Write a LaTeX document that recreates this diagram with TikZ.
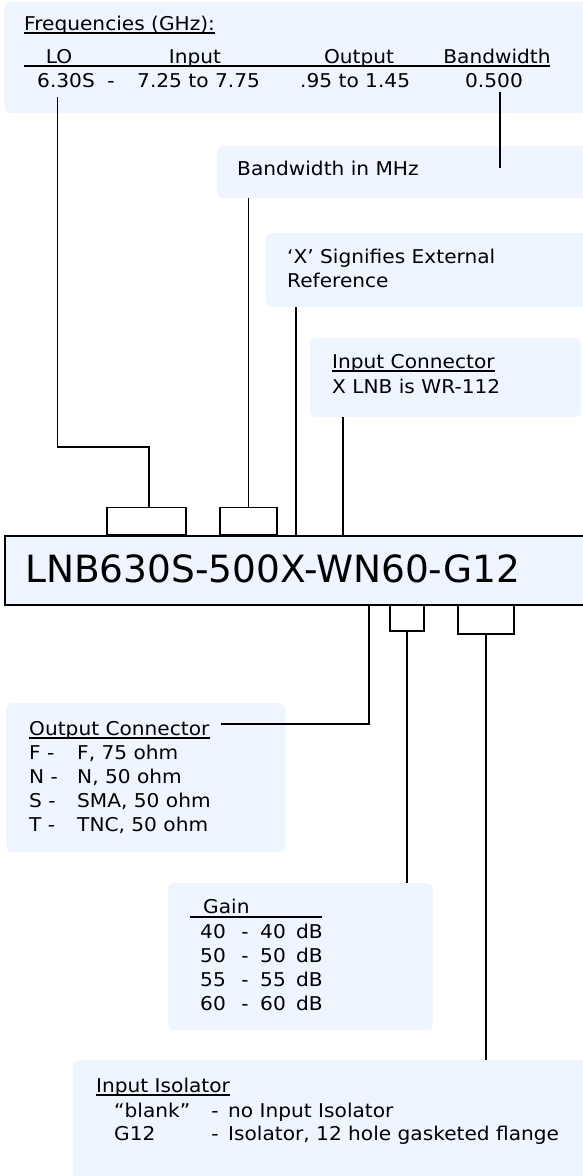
\documentclass[tikz,border=0pt]{standalone}
\usepackage{fontspec}
\setmainfont{DejaVu Sans}[FakeStretch=1.06]
\newfontfamily\partfont{DejaVu Sans}
\usepackage{xcolor}
\usetikzlibrary{positioning}
\definecolor{paleblue}{HTML}{EEF5FE}

\begin{document}
\begin{tikzpicture}[
    x=1pt, y=-1pt,
    font=\fontsize{19}{24}\selectfont,
    panel/.style={
        fill=paleblue,
        rounded corners=6pt,
        anchor=north west,
        inner sep=0pt
    },
    txt/.style={anchor=base west, inner sep=0pt},
    ctxt/.style={anchor=base, inner sep=0pt},
    bracket/.style={draw, line width=1.5pt, inner sep=0pt},
    wire/.style={line width=1.5pt},
    uline/.style={line width=1.3pt}
]
\useasboundingbox (0,0) rectangle (582,1176);

% Note panels
\node[panel, minimum width=620pt, minimum height=111pt] (freqnote) at (4,2) {};
\node[panel, minimum width=400pt, minimum height=52pt] (bwnote) at (217,146) {};
\node[panel, minimum width=330pt, minimum height=74pt] (xnote) at (266,233) {};
\node[panel, minimum width=271pt, minimum height=79pt] (innote) at (310,338) {};
\node[panel, minimum width=279pt, minimum height=149pt] (outnote) at (6,703) {};
\node[panel, minimum width=265pt, minimum height=147pt] (gainnote) at (168,883) {};
\node[panel, minimum width=540pt, minimum height=140pt] (isonote) at (73,1060) {};

% Part number
\node[draw, fill=paleblue, line width=1.6pt, anchor=north west,
      minimum width=620pt, minimum height=69pt, inner sep=0pt] (lnb) at (4,535) {};
\node[txt, font=\partfont\fontsize{37.5}{44}\selectfont] (partno) at (25,582) {LNB630S-500X-WN60-G12};

\node[bracket, minimum width=79pt, minimum height=27pt, anchor=south west] (lobox) at (106,535) {};
\node[bracket, minimum width=57pt, minimum height=27pt, anchor=south west] (bwbox) at (219,535) {};
\node[bracket, minimum width=34pt, minimum height=26pt, anchor=north west] (gainbox) at (389,604) {};
\node[bracket, minimum width=56pt, minimum height=29pt, anchor=north west] (isobox) at (457,604) {};

% Frequencies
\node[txt] (freqtitle) at (24,30) {Frequencies (GHz):};
\draw[uline] ([yshift=-3pt]freqtitle.base west) -- ([yshift=-3pt]freqtitle.base east);
\node[ctxt] (lohead) at (59,63) {LO};
\node[ctxt] (inhead) at (195,63) {Input};
\node[ctxt] (outhead) at (359,63) {Output};
\node[ctxt] (bwhead) at (497,63) {Bandwidth};
\draw[uline] (24,66) -- (550,66);
\node[txt] (loval) at (37,87) {6.30S};
\node[ctxt] (dashval) at (111,87) {-};
\node[txt] (inval) at (137,87) {7.25 to 7.75};
\node[txt] (outval) at (300,87) {.95 to 1.45};
\node[ctxt] (bwval) at (494,87) {0.500};

% Notes
\node[txt] (bwtext) at (237,175) {Bandwidth in MHz};
\node[txt] (xtext) at (287,263) {`X' Signifies External};
\node[txt] (xtext2) at (287,287) {Reference};
\node[txt] (intitle) at (332,368) {Input Connector};
\draw[uline] ([yshift=-3pt]intitle.base west) -- ([yshift=-3pt]intitle.base east);
\node[txt] (intext) at (332,393) {X LNB is WR-112};

\node[txt] (outtitle) at (29,735) {Output Connector};
\draw[uline] ([yshift=-3pt]outtitle.base west) -- ([yshift=-3pt]outtitle.base east);
\foreach \code/\desc [count=\i] in {F/{F, 75 ohm}, N/{N, 50 ohm}, S/{SMA, 50 ohm}, T/{TNC, 50 ohm}} {
    \node[txt] (outcode\i) at (29,735+24*\i) {\code\ -};
    \node[txt] (outdesc\i) at (77,735+24*\i) {\desc};
}

\node[txt] (gaintitle) at (203,913) {Gain};
\draw[uline] (190,917) -- (322,917);
\foreach \g [count=\i] in {40,50,55,60} {
    \node[txt] (gaincode\i) at (200,914+24*\i) {\g};
    \node[ctxt] (gaindash\i) at (245,914+24*\i) {-};
    \node[txt] (gainval\i) at (260,914+24*\i) {\g};
    \node[txt] (gaindb\i) at (296,914+24*\i) {dB};
}

\node[txt] (isotitle) at (96,1092) {Input Isolator};
\draw[uline] ([yshift=-3pt]isotitle.base west) -- ([yshift=-3pt]isotitle.base east);
\node[txt] (isocode1) at (114,1117) {``blank''};
\node[ctxt] (isodash1) at (215,1117) {-};
\node[txt] (isodesc1) at (228,1117) {no Input Isolator};
\node[txt] (isocode2) at (114,1140) {G12};
\node[ctxt] (isodash2) at (215,1140) {-};
\node[txt] (isodesc2) at (228,1140) {Isolator, 12 hole gasketed flange};

% Connections
\coordinate (lotap) at (57.5,97);
\coordinate (bwtap) at (500,92);
\coordinate (xpin) at (296,535);
\coordinate (inpin) at (343,535);
\coordinate (outpin) at (369,604);
\coordinate (outtap) at (221,724);

\draw[wire] (lotap) -- (57.5,447) -| ([xshift=2.5pt]lobox.north);
\draw[wire] (bwtap) -- (bwtap |- 0,168);
\draw[wire] (bwbox.north |- bwnote.south) -- (bwbox.north);
\draw[wire] (xpin |- xnote.south) -- (xpin);
\draw[wire] (inpin |- innote.south) -- (inpin);
\draw[wire] (outpin) |- (outtap);
\draw[wire] (gainbox.south) -- (gainbox.south |- gainnote.north);
\draw[wire] (isobox.south) -- (isobox.south |- isonote.north);

\end{tikzpicture}
\end{document}
